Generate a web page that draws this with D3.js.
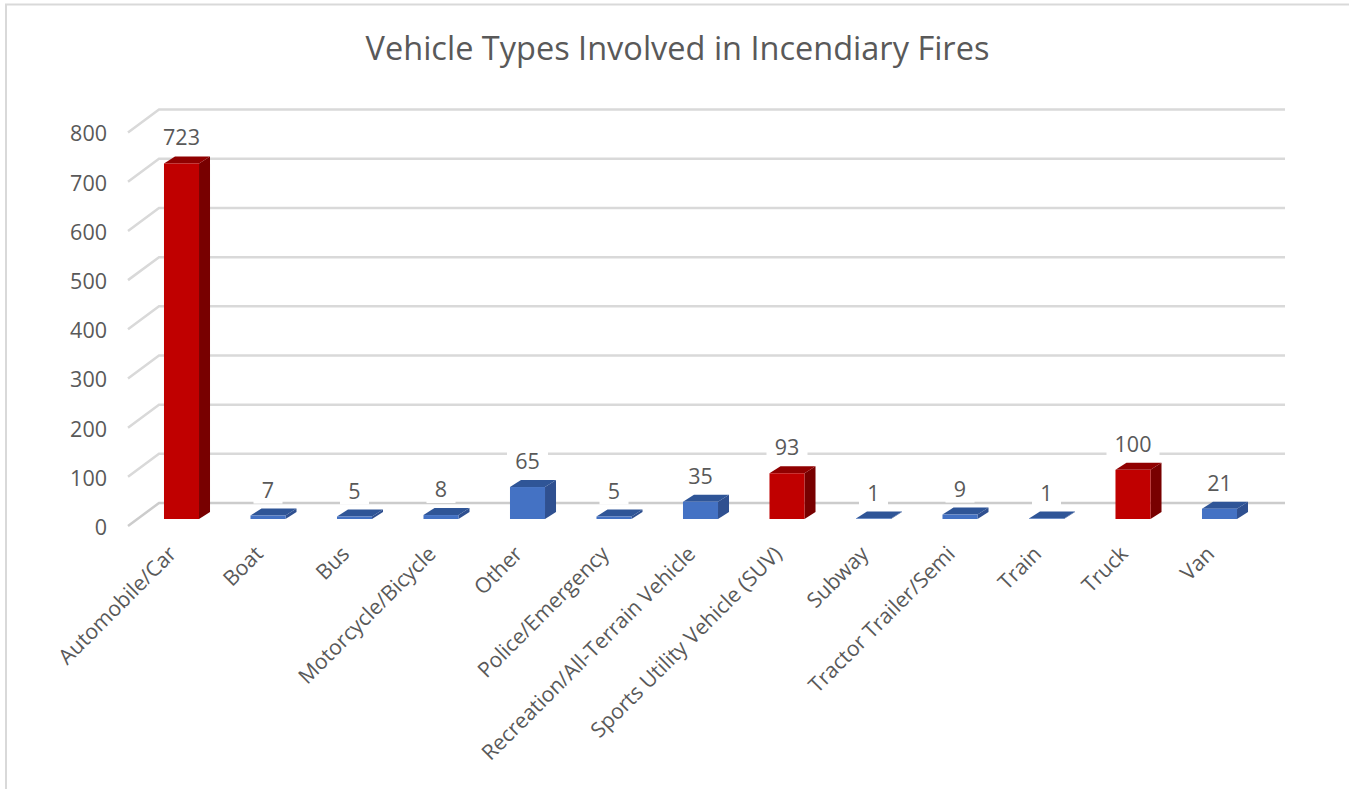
<!DOCTYPE html>
<html>
<head>
<meta charset="utf-8">
<script src="https://cdn.jsdelivr.net/npm/d3@7"></script>
<style>
html, body { margin: 0; padding: 0; background: #fff; overflow: hidden; }
svg { display: block; font-family: "Open Sans", sans-serif; }
</style>
</head>
<body>
<svg id="viz"></svg>
<script>
const categories = ["Automobile/Car", "Boat", "Bus", "Motorcycle/Bicycle", "Other", "Police/Emergency",
    "Recreation/All-Terrain Vehicle", "Sports Utility Vehicle (SUV)", "Subway", "Tractor Trailer/Semi",
    "Train", "Truck", "Van"];
const fires = [723, 7, 5, 8, 65, 5, 35, 93, 1, 9, 1, 100, 21];
const highlighted = ["Automobile/Car", "Sports Utility Vehicle (SUV)", "Truck"];
const yTicks = [0, 100, 200, 300, 400, 500, 600, 700, 800];
const chartTitle = "Vehicle Types Involved in Incendiary Fires";

const width = 1349;
const height = 789;
const textColor = "#595959";
const gridColor = "#d9d9d9";

// 3d offsets, front of the bars -> top/side, and front of the axis -> back wall
const barDx = 11, barDy = 7;
const wallTop = 16, wallLeft = 159, wallRight = 1285;
const tickLeft = 128, tickDown = 7;

const blue = { front: "#4472c4", top: "#2f5597", side: "#2f5090" };
const red = { front: "#c00000", top: "#900000", side: "#780000" };

const x = d3.scaleBand()
    .domain(categories)
    .range([138.25, 1262.75])
    .paddingInner(0.595)
    .paddingOuter(0.2975);

const y = d3.scaleLinear()
    .domain([0, 800])
    .range([519, 125.6]);

const svg = d3.select("#viz")
    .attr("width", width)
    .attr("height", height)
    .attr("viewBox", [0, 0, width, height]);

// chart frame
svg.append("path")
    .attr("d", "M6,789V4.5H1349")
    .attr("fill", "none")
    .attr("stroke", gridColor)
    .attr("stroke-width", 2);

svg.append("text")
    .attr("x", 677.5)
    .attr("y", 60)
    .attr("text-anchor", "middle")
    .attr("font-size", 32.5)
    .attr("fill", textColor)
    .text(chartTitle);

// gridlines on the wall + the slanted bit on the side wall
svg.append("g")
    .selectAll("path")
    .data(yTicks)
    .join("path")
    .attr("d", d => `M${tickLeft},${y(d) + tickDown}L${wallLeft},${y(d) - wallTop}H${wallRight}`)
    .attr("fill", "none")
    .attr("stroke", d => d == 0 ? "#cccccc" : gridColor)
    .attr("stroke-width", 2.5);

const data = categories.map((c, i) => ({ cat: c, val: fires[i] }));
const colorOf = d => highlighted.includes(d.cat) ? red : blue;

const bars = svg.append("g")
    .selectAll("g")
    .data(data)
    .join("g");

bars.append("path")
    .attr("fill", d => colorOf(d).side)
    .attr("d", d => {
        const xr = x(d.cat) + x.bandwidth();
        return `M${xr},${y(0)}V${y(d.val)}l${barDx},${-barDy}V${y(0) - barDy}Z`;
    });

bars.append("path")
    .attr("fill", d => colorOf(d).top)
    .attr("d", d => `M${x(d.cat)},${y(d.val)}l${barDx},${-barDy}h${x.bandwidth()}l${-barDx},${barDy}Z`);

bars.append("rect")
    .attr("x", d => x(d.cat))
    .attr("y", d => y(d.val))
    .attr("width", x.bandwidth())
    .attr("height", d => y(0) - y(d.val))
    .attr("fill", d => colorOf(d).front);

// data labels sit on white boxes that cut the gridlines
const labels = svg.append("g")
    .selectAll("g")
    .data(data)
    .join("g")
    .attr("transform", d => `translate(${x(d.cat) + x.bandwidth() / 2},${y(d.val) - barDy - 19})`);

labels.append("rect")
    .attr("x", d => -(String(d.val).length * 12 + 17) / 2)
    .attr("y", -14)
    .attr("width", d => String(d.val).length * 12 + 17)
    .attr("height", 28)
    .attr("fill", "#fff");

labels.append("text")
    .attr("text-anchor", "middle")
    .attr("dy", 8)
    .attr("font-size", 21.5)
    .attr("fill", textColor)
    .text(d => d.val);

const yAxis = g => g
    .attr("transform", `translate(111,${tickDown + 1.5})`)
    .call(d3.axisLeft(y).tickValues(yTicks).tickSize(0).tickPadding(4))
    .call(g => g.select(".domain").remove());

const xAxis = g => g
    .attr("transform", `translate(0,${y(0)})`)
    .call(d3.axisBottom(x).tickSize(0))
    .call(g => g.select(".domain").remove());

svg.append("g").attr("class", "yaxis").call(yAxis);
svg.append("g").attr("class", "xaxis").call(xAxis)
    .selectAll("text")
    .attr("text-anchor", "end")
    .attr("transform", "translate(-9,31) rotate(-45)")
    .attr("x", 0)
    .attr("y", 0)
    .attr("dy", "0.35em");

svg.selectAll(".tick text")
    .attr("font-family", "\"Open Sans\", sans-serif")
    .attr("fill", textColor);
svg.selectAll(".yaxis .tick text").attr("font-size", 21.5);
svg.selectAll(".xaxis .tick text").attr("font-size", 21.2);
</script>
</body>
</html>
